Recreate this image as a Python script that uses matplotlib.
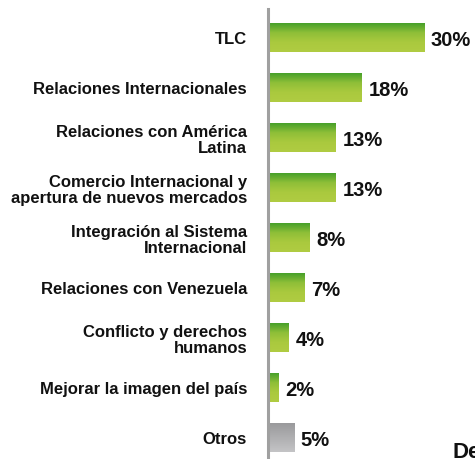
import numpy as np
import matplotlib.pyplot as plt
from matplotlib.colors import LinearSegmentedColormap

# Datos
categorias = ["TLC", "Relaciones Internacionales", "Relaciones con América\nLatina",
              "Comercio Internacional y\napertura de nuevos mercados",
              "Integración al Sistema\nInternacional", "Relaciones con Venezuela",
              "Conflicto y derechos\nhumanos", "Mejorar la imagen del país", "Otros"]
valores = [30, 18, 13, 13, 8, 7, 4, 2, 5]
etiquetas = ["30%", "18%", "13%", "13%", "8%", "7%", "4%", "2%", "5%"]

verde = LinearSegmentedColormap.from_list("verde", ["#47a02a", "#8fbf38", "#aac93e", "#b0cc42"])
gris = LinearSegmentedColormap.from_list("gris", ["#9a9a9c", "#c4c4c6"])

fig = plt.figure(figsize=(4.75, 4.6), dpi=100)
ax = fig.add_axes([0.564, 0.0, 0.436, 0.978])

y = np.arange(len(categorias))
bars = ax.barh(y, valores, height=0.58, color="none")

grad = np.linspace(0, 1, 64).reshape(-1, 1)
for i, b in enumerate(bars):
    x0, y0 = b.get_x(), b.get_y()
    w, h = b.get_width(), b.get_height()
    cmap = gris if categorias[i] == "Otros" else verde
    ax.imshow(grad, cmap=cmap, aspect="auto", extent=(x0, x0 + w, y0 + h, y0),
              origin="upper", zorder=2)
    ax.text(x0 + w + 1.3, y[i] + 0.05, etiquetas[i], va="center", ha="left",
            fontsize=14.5, fontweight="bold", color="#111111", family="Liberation Sans")

ax.set_xlim(0, 39.8)
ax.set_ylim(8.44, -0.56)
ax.set_yticks(y)
ax.set_yticklabels(categorias, fontsize=12, fontweight="bold", family="Liberation Sans",
                   color="#111111", linespacing=1.1)
ax.tick_params(axis="y", length=0, pad=15)
ax.set_xticks([])
for s in ["top", "right", "bottom"]:
    ax.spines[s].set_visible(False)
ax.spines["left"].set_color("#a0a0a0")
ax.spines["left"].set_linewidth(2.2)

fig.text(0.952, -0.006, "De", fontsize=16, fontweight="bold", family="Liberation Sans",
         color="#111111", ha="left", va="bottom")

fig.savefig("out.png", dpi=100)
